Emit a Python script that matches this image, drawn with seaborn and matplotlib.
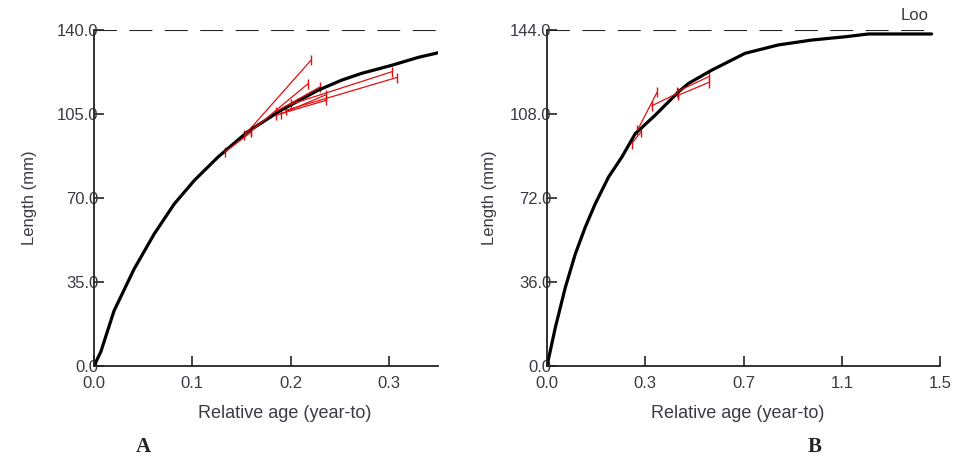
import matplotlib
matplotlib.use("Agg")
import matplotlib.pyplot as plt
import seaborn as sns
import pandas as pd

# ---------------- data ----------------
# Panel A growth curve
a_age = [0.0, 0.007, 0.0204, 0.0408, 0.0612, 0.0816, 0.102, 0.126, 0.136, 0.156,
         0.190, 0.228, 0.252, 0.272, 0.303, 0.330, 0.350]
a_len = [0.0, 6.0, 23.0, 40.4, 55.0, 67.5, 77.3, 87.0, 90.5, 97.5,
         106.5, 114.9, 119.1, 121.9, 125.3, 128.6, 130.5]
a_linf = 140.0
# Panel A tag-recapture segments
a_seg_x0 = [0.153, 0.160, 0.185, 0.185, 0.200, 0.195, 0.133, 0.190]
a_seg_y0 = [96.1, 98.0, 104.5, 106.0, 109.0, 106.5, 89.1, 105.0]
a_seg_x1 = [0.221, 0.218, 0.236, 0.230, 0.303, 0.308, 0.160, 0.236]
a_seg_y1 = [127.5, 117.7, 110.7, 116.3, 122.6, 120.2, 97.5, 113.0]

# Panel B growth curve
b_age = [0.0, 0.0318, 0.070, 0.108, 0.146, 0.184, 0.235, 0.286, 0.337, 0.413,
         0.502, 0.540, 0.629, 0.756, 0.883, 1.011, 1.138, 1.227, 1.468]
b_len = [0.0, 16.5, 33.7, 48.0, 59.5, 69.5, 81.0, 89.6, 99.6, 107.5,
         117.5, 121.1, 126.8, 134.0, 137.6, 139.7, 141.1, 142.3, 142.3]
b_linf = 144.0
# Panel B tag-recapture segments
b_seg_x0 = [0.323, 0.345, 0.400, 0.495, 0.500]
b_seg_y0 = [95.3, 101.0, 111.5, 117.5, 116.0]
b_seg_x1 = [0.360, 0.420, 0.500, 0.617, 0.617]
b_seg_y1 = [100.5, 117.3, 117.0, 124.0, 121.5]

a_xticks = [0.0, 0.1, 0.2, 0.3]
a_xticklabels = ["0.0", "0.1", "0.2", "0.3"]
a_yticks = [0, 35, 70, 105, 140]
a_yticklabels = ["0.0", "35.0", "70.0", "105.0", "140.0"]
b_xticks = [0.0, 0.375, 0.75, 1.125, 1.5]
b_xticklabels = ["0.0", "0.3", "0.7", "1.1", "1.5"]
b_yticks = [0, 36, 72, 108, 144]
b_yticklabels = ["0.0", "36.0", "72.0", "108.0", "144.0"]

x_label = "Relative age (year-to)"
y_label = "Length (mm)"

# ---------------- style ----------------
sns.set_style("ticks")
plt.rcParams["font.family"] = ["Liberation Sans", "DejaVu Sans"]
TXT = "#3a3a44"
RED = "#e01010"

fig = plt.figure(figsize=(9.55, 4.57), dpi=100)
axA = fig.add_axes([94 / 955, (457 - 366) / 457, (438 - 94) / 955, (366 - 30) / 457])
axB = fig.add_axes([547 / 955, (457 - 366) / 457, (940 - 547) / 955, (366 - 30) / 457])


def seg_frame(x0, y0, x1, y1):
    rows = []
    for i in range(len(x0)):
        rows.append({"seg": i, "x": x0[i], "y": y0[i]})
        rows.append({"seg": i, "x": x1[i], "y": y1[i]})
    return pd.DataFrame(rows)


def draw(ax, age, length, linf, x_end, sx0, sy0, sx1, sy1, xlim,
         xt, xtl, yt, ytl, xlabel_x, ylabel_x):
    # asymptote
    sns.lineplot(x=[0, x_end], y=[linf, linf], ax=ax, color="#222222",
                 lw=1.5, dashes=False, linestyle=(0, (11, 6)))
    # growth curve
    sns.lineplot(x=age, y=length, ax=ax, color="black", lw=2.3, sort=False)
    # segments
    df = seg_frame(sx0, sy0, sx1, sy1)
    sns.lineplot(data=df, x="x", y="y", units="seg", estimator=None, ax=ax,
                 color=RED, lw=0.9, sort=False)
    caps = pd.DataFrame({"x": list(sx0) + list(sx1), "y": list(sy0) + list(sy1)})
    sns.scatterplot(data=caps, x="x", y="y", ax=ax, marker="|", s=45,
                    color=RED, linewidth=1.0)
    ax.set_xlim(*xlim)
    ax.set_ylim(0, linf)
    ax.set_xticks(xt)
    ax.set_xticklabels(xtl)
    ax.set_yticks(yt)
    ax.set_yticklabels(ytl)
    ax.tick_params(axis="both", direction="in", length=7, width=1.2,
                   colors="#222222", labelcolor=TXT, labelsize=12)
    ax.tick_params(axis="y", pad=-3)
    ax.tick_params(axis="x", pad=7)
    for s in ["top", "right"]:
        ax.spines[s].set_visible(False)
    for s in ["left", "bottom"]:
        ax.spines[s].set_linewidth(1.3)
        ax.spines[s].set_color("#222222")
    ax.set_xlabel(x_label, fontsize=13, color=TXT)
    ax.set_ylabel(y_label, fontsize=12, color=TXT)
    ax.xaxis.set_label_coords(xlabel_x, -0.115)
    ax.yaxis.set_label_coords(ylabel_x, 0.5)
    ax.set_facecolor("white")


draw(axA, a_age, a_len, a_linf, 0.35, a_seg_x0, a_seg_y0, a_seg_x1, a_seg_y1,
     (0, 0.35), a_xticks, a_xticklabels, a_yticks, a_yticklabels, 0.555, -0.166)
draw(axB, b_age, b_len, b_linf, 1.47, b_seg_x0, b_seg_y0, b_seg_x1, b_seg_y1,
     (0, 1.5), b_xticks, b_xticklabels, b_yticks, b_yticklabels, 0.485, -0.127)

for ax in (axA, axB):
    for c in ax.collections:
        c.set_clip_on(False)

fig.text(915 / 955, 1 - 15 / 457, "Loo", fontsize=12, color=TXT,
         ha="center", va="center")
fig.text(143 / 955, 1 - 447 / 457, "A", fontsize=15, fontweight="bold",
         family="Liberation Serif", ha="center", va="center")
fig.text(815 / 955, 1 - 447 / 457, "B", fontsize=15, fontweight="bold",
         family="Liberation Serif", ha="center", va="center")

fig.savefig("out.png", dpi=100, facecolor="white")
